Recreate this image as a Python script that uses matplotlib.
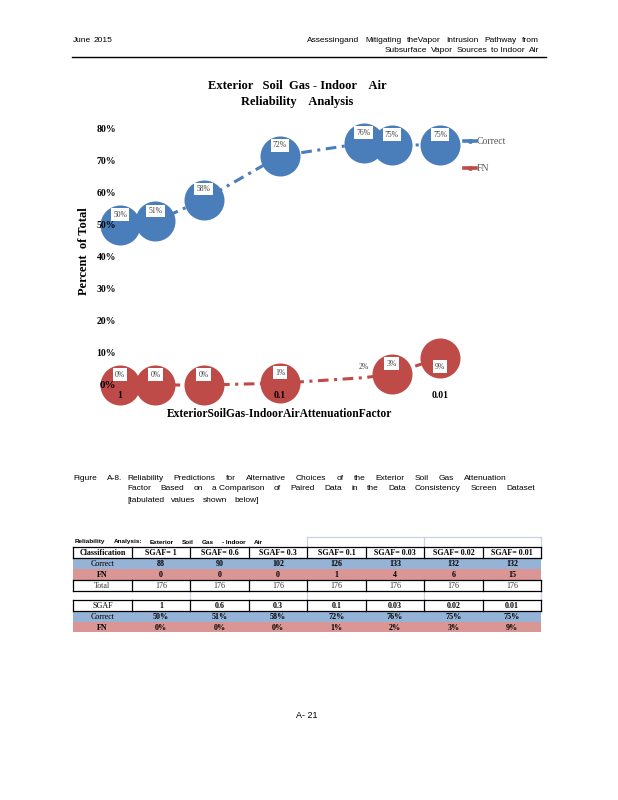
import numpy as np
import matplotlib.pyplot as plt
from matplotlib.lines import Line2D
from matplotlib.patches import Rectangle
from matplotlib.ticker import NullLocator

# data
sgaf = [1, 0.6, 0.3, 0.1, 0.03, 0.02, 0.01]
sgaf_labels = ['1', '0.6', '0.3', '0.1', '0.03', '0.02', '0.01']
correct_counts = [88, 90, 102, 126, 133, 132, 132]
fn_counts = [0, 0, 0, 1, 4, 6, 15]
totals = [176, 176, 176, 176, 176, 176, 176]
fn_bubble_shown = [True, True, True, True, False, True, True]

correct_pct = [100.0 * c / t for c, t in zip(correct_counts, totals)]
fn_pct = [100.0 * c / t for c, t in zip(fn_counts, totals)]

BLUE = '#4a7ebb'
RED = '#be4b48'
BLUE_ROW = '#95b3d7'
RED_ROW = '#da9694'
SERIF = 'Liberation Serif'
SANS = ['Liberation Sans Narrow', 'Liberation Sans']

W, H = 618, 800
fig = plt.figure(figsize=(W / 100, H / 100), dpi=100)

# page layer in pixel coordinates
page = fig.add_axes([0, 0, 1, 1])
page.set_xlim(0, W)
page.set_ylim(H, 0)
page.axis('off')


def justify(words, x0, x1, y, **kw):
    texts = [page.text(x0, y, w, ha='left', va='center', **kw) for w in words]
    r = fig.canvas.get_renderer()
    widths = [t.get_window_extent(r).width for t in texts]
    gap = (x1 - x0 - sum(widths)) / max(len(words) - 1, 1)
    x = x0
    for t, w in zip(texts, widths):
        t.set_x(x)
        x += w + gap


# running header
page.text(73, 41, 'June', family=SANS, fontsize=6, va='center')
page.text(94, 41, '2015', family=SANS, fontsize=6, va='center')
justify(['Assessingand', 'Mitigating', 'theVapor', 'Intrusion', 'Pathway', 'from'],
        307, 539, 41, family=SANS, fontsize=6)
justify(['Subsurface', 'Vapor', 'Sources', 'to Indoor', 'Air'],
        385, 539, 51, family=SANS, fontsize=6)
page.plot([72, 546], [57, 57], color='black', lw=1)

# chart
ax = fig.add_axes([118 / W, 1 - 389 / H, (460 - 118) / W, (389 - 120) / H])
ax.set_xscale('log')
ax.set_xlim(10 ** 0.0125, 10 ** -2.125)
ax.set_ylim(-1.25, 82.8)
ax.set_axisbelow(False)
for s in ax.spines.values():
    s.set_visible(False)
ax.patch.set_alpha(0)

dash = (3.5, 1.8, 1, 1.8)
l1, = ax.plot(sgaf, correct_pct, color=BLUE, lw=2.2, dashes=dash, zorder=1.5, clip_on=False)
l2, = ax.plot(sgaf, fn_pct, color=RED, lw=2.2, dashes=dash, zorder=1.5, clip_on=False)

ax.scatter(sgaf, correct_pct, s=830, color=BLUE, linewidths=0, zorder=2, clip_on=False)
fx = [x for x, k in zip(sgaf, fn_bubble_shown) if k]
fy = [y for y, k in zip(fn_pct, fn_bubble_shown) if k]
ax.scatter(fx, fy, s=830, color=RED, linewidths=0, zorder=2, clip_on=False)

box = dict(boxstyle='square,pad=0.3', fc='white', ec='none')
for x, y in zip(sgaf, correct_pct):
    ax.annotate('%d%%' % round(y), (x, y), xytext=(0, 7.5), textcoords='offset points',
                ha='center', va='center', fontsize=5.5, family=SERIF, color='#404040',
                bbox=box, zorder=5, annotation_clip=False)
for x, y in zip(sgaf, fn_pct):
    dy = -6.5 if y > 5 else 7.5
    ax.annotate('%d%%' % round(y), (x, y), xytext=(0, dy), textcoords='offset points',
                ha='center', va='center', fontsize=5.5, family=SERIF, color='#404040',
                bbox=box, zorder=5, annotation_clip=False)

ax.set_yticks(range(0, 90, 10))
ax.set_yticklabels(['%d%%' % v for v in range(0, 90, 10)])
ax.set_xticks([1, 0.1, 0.01])
ax.set_xticklabels(['1', '0.1', '0.01'])
ax.xaxis.set_minor_locator(NullLocator())
ax.tick_params(length=0, pad=1.5)
for t in ax.get_yticklabels() + ax.get_xticklabels():
    t.set_fontfamily(SERIF)
    t.set_fontweight('bold')
    t.set_fontsize(7)
ax.get_yticklabels()[0].set_fontsize(8)

leg_handles = [Line2D([], [], color=BLUE, lw=2.6, marker='.', markersize=5),
               Line2D([], [], color=RED, lw=2.6, marker='.', markersize=5)]
ax.legend(leg_handles, ['Correct', 'FN'], loc='upper left',
          bbox_to_anchor=(464 / W, 1 - 137 / H), bbox_transform=fig.transFigure,
          frameon=False, handlelength=1.2, handletextpad=0.1, labelspacing=1.9,
          borderpad=0, borderaxespad=0, numpoints=1, markerfirst=True,
          prop=dict(family=SERIF, size=7), labelcolor='#595959')

page.text(297, 86, 'Exterior   Soil  Gas - Indoor    Air', ha='center', va='center',
          family=SERIF, fontweight='bold', fontsize=9)
page.text(297, 102, 'Reliability    Analysis', ha='center', va='center',
          family=SERIF, fontweight='bold', fontsize=9)
page.text(84, 251, 'Percent  of Total', rotation=90, ha='center', va='center',
          family=SERIF, fontweight='bold', fontsize=9)
page.text(280, 414, 'ExteriorSoilGas-IndoorAirAttenuationFactor', ha='center', va='center',
          family=SERIF, fontweight='bold', fontsize=8.3)

# caption
cap = dict(family=SANS, fontsize=6)
page.text(73, 478, 'Figure', va='center', **cap)
page.text(107, 478, 'A-8.', va='center', **cap)
justify(['Reliability', 'Predictions', 'for', 'Alternative', 'Choices', 'of', 'the',
         'Exterior', 'Soil', 'Gas', 'Attenuation'], 127, 507, 478, **cap)
justify(['Factor', 'Based', 'on', 'a Comparison', 'of', 'Paired', 'Data', 'in', 'the',
         'Data', 'Consistency', 'Screen', 'Dataset'], 127, 535, 489, **cap)
justify(['[tabulated', 'values', 'shown', 'below]'], 127, 259, 501, **cap)

# table
cols = [73, 132, 190, 249, 307, 366, 424, 483, 541]
light = '#c9d1e3'


def row(y0, y1, cells, fill=None, edge=True, weights=None, color='black'):
    if fill:
        page.add_patch(Rectangle((cols[0], y0), cols[-1] - cols[0], y1 - y0,
                                 fc=fill, ec='none', zorder=1))
    if edge:
        for x in cols:
            page.plot([x, x], [y0, y1], color='black', lw=0.9, zorder=2)
        page.plot([cols[0], cols[-1]], [y0, y0], color='black', lw=0.9, zorder=2)
        page.plot([cols[0], cols[-1]], [y1, y1], color='black', lw=0.9, zorder=2)
    for i, txt in enumerate(cells):
        w = weights[i] if weights else 'bold'
        page.text((cols[i] + cols[i + 1]) / 2, (y0 + y1) / 2 + 0.5, txt,
                  ha='center', va='center', family=SERIF, fontsize=5.8,
                  fontweight=w, color=color, zorder=3)


# light grid of the sheet
page.plot([307, 541], [537, 537], color=light, lw=0.9)
for x in [307, 424, 541]:
    page.plot([x, x], [537, 547], color=light, lw=0.9)
for x in [190, 307, 424, 541]:
    page.plot([x, x], [591, 600], color=light, lw=0.9)
justify(['Reliability', 'Analysis:', 'Exterior', 'Soil', 'Gas', '- Indoor', 'Air'],
        75, 263, 542, family=SANS, fontsize=4.6, fontweight='bold')

plain = ['normal'] + ['bold'] * 7
row(547, 558, ['Classification'] + ['SGAF= ' + s for s in sgaf_labels])
row(558, 569, ['Correct'] + [str(v) for v in correct_counts], fill=BLUE_ROW, edge=False,
    weights=plain)
row(569, 580, ['FN'] + [str(v) for v in fn_counts], fill=RED_ROW, edge=False)
row(580, 591, ['Total'] + [str(v) for v in totals], weights=['normal'] * 8, color='#333333')
row(600, 611, ['SGAF'] + sgaf_labels, weights=plain)
row(611, 622, ['Correct'] + ['%d%%' % round(v) for v in correct_pct], fill=BLUE_ROW,
    edge=False, weights=plain)
row(622, 632, ['FN'] + ['%d%%' % round(v) for v in fn_pct], fill=RED_ROW, edge=False)

page.text(307, 716, 'A- 21', ha='center', va='center', family=SANS, fontsize=6.5)

fig.savefig('out.png', dpi=100)
